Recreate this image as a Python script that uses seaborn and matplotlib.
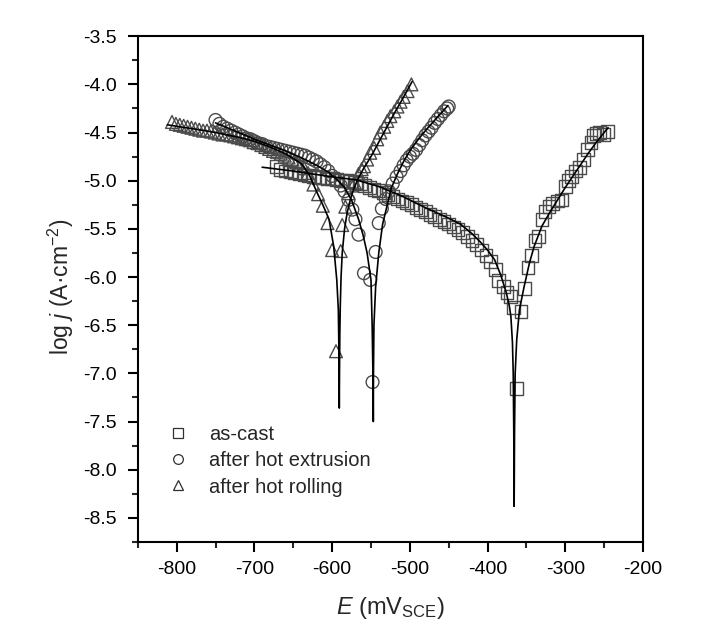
import matplotlib
matplotlib.use("Agg")
import matplotlib.pyplot as plt
import seaborn as sns
import pandas as pd
from matplotlib.ticker import MultipleLocator
from matplotlib.lines import Line2D

# ---------------- data ----------------
series_names = ["as-cast", "after hot extrusion", "after hot rolling"]

# as-cast measured points
cast_E = [-672, -666, -660, -654, -648, -642, -636, -630, -624, -618, -612, -606, -600,
          -594, -588, -582, -576, -570, -564, -558, -552, -546, -540, -534, -528, -522,
          -516, -510, -504, -498, -492, -486, -480, -474, -468, -462, -456, -450, -444,
          -438, -432, -426, -420, -414, -408, -402, -396, -390, -386, -380, -375, -370,
          -367, -363,
          -357, -353, -348, -343, -339, -334, -330, -326, -321, -316, -310, -305, -300,
          -296, -292, -287, -282, -277, -271, -267, -264, -260, -256, -251, -246]
cast_logj = [-4.85, -4.88, -4.90, -4.91, -4.92, -4.93, -4.94, -4.95, -4.96, -4.97, -4.97, -4.98, -4.98,
             -4.99, -5.00, -5.00, -5.01, -5.02, -5.03, -5.05, -5.07, -5.09, -5.10, -5.12, -5.14, -5.16,
             -5.19, -5.21, -5.23, -5.25, -5.28, -5.30, -5.32, -5.35, -5.37, -5.40, -5.42, -5.45, -5.48,
             -5.51, -5.54, -5.58, -5.62, -5.66, -5.72, -5.78, -5.84, -5.92, -6.04, -6.10, -6.16, -6.20,
             -6.32, -7.16,
             -6.36, -6.12, -5.90, -5.78, -5.62, -5.58, -5.40, -5.32, -5.27, -5.24, -5.21, -5.20, -5.06,
             -5.00, -4.96, -4.90, -4.86, -4.78, -4.68, -4.60, -4.53, -4.51, -4.50, -4.52, -4.49]

# after hot extrusion measured points
ext_E = [-750, -745, -740, -735, -730, -725, -720, -715, -710, -705, -700, -695, -690, -685,
         -680, -675, -670, -665, -660, -655, -650, -645, -640, -635, -630, -625, -620, -615,
         -610, -605, -600, -594, -589, -584, -579, -574, -570, -566, -559, -551, -548,
         -544, -540, -536, -531, -527, -522, -517, -512, -508, -504, -500, -496, -492, -488,
         -484, -480, -476, -472, -468, -464, -460, -456, -452, -450]
ext_logj = [-4.37, -4.41, -4.44, -4.46, -4.48, -4.50, -4.52, -4.54, -4.56, -4.57, -4.59, -4.61, -4.62, -4.64,
            -4.65, -4.66, -4.67, -4.68, -4.69, -4.70, -4.71, -4.72, -4.73, -4.74, -4.76, -4.78, -4.80, -4.83,
            -4.86, -4.90, -4.95, -5.00, -5.05, -5.11, -5.20, -5.30, -5.40, -5.56, -5.96, -6.03, -7.09,
            -5.74, -5.44, -5.29, -5.19, -5.11, -5.03, -4.96, -4.90, -4.84, -4.79, -4.75, -4.72, -4.68, -4.63,
            -4.58, -4.53, -4.49, -4.45, -4.40, -4.36, -4.32, -4.28, -4.25, -4.23]

# after hot rolling measured points
roll_E = [-806, -801, -796, -791, -786, -781, -776, -771, -766, -761, -756, -751, -746, -741,
          -736, -731, -726, -721, -716, -711, -706, -701, -696, -691, -686, -681, -676, -671,
          -666, -661, -656, -651, -646, -641, -636, -631, -624, -618, -612, -606, -600, -595,
          -589, -587, -583, -579, -575, -571, -566, -562, -559, -555, -551, -546, -542, -538,
          -533, -529, -525, -520, -516, -512, -508, -503, -498]
roll_logj = [-4.39, -4.41, -4.42, -4.43, -4.44, -4.45, -4.46, -4.47, -4.48, -4.48, -4.49, -4.50, -4.51, -4.52,
             -4.52, -4.53, -4.54, -4.55, -4.56, -4.57, -4.58, -4.60, -4.61, -4.63, -4.65, -4.67, -4.69, -4.70,
             -4.72, -4.74, -4.76, -4.78, -4.81, -4.84, -4.87, -4.92, -5.04, -5.14, -5.26, -5.44, -5.72, -6.77,
             -5.73, -5.46, -5.27, -5.13, -5.05, -5.02, -4.93, -4.88, -4.85, -4.78, -4.71, -4.66, -4.57, -4.50,
             -4.44, -4.38, -4.33, -4.28, -4.23, -4.18, -4.13, -4.07, -4.00]

# Tafel fit curves
cast_fit_E = [-690, -650, -600, -570, -540, -510, -480, -450, -435, -420, -410, -400, -391, -383,
              -376, -372, -370, -368, -367, -366.3, -365.8,
              -365.3, -364.5, -362.5, -359, -353, -346, -340, -330, -320, -310, -300, -290, -280,
              -270, -260, -250, -245]
cast_fit_logj = [-4.86, -4.90, -4.96, -4.99, -5.06, -5.16, -5.28, -5.39, -5.45, -5.55, -5.63, -5.72, -5.82, -5.98,
                 -6.16, -6.30, -6.41, -6.68, -7.00, -7.60, -8.38,
                 -7.60, -7.00, -6.65, -6.34, -6.10, -5.85, -5.68, -5.47, -5.33, -5.20, -5.07, -4.95, -4.83,
                 -4.71, -4.60, -4.50, -4.45]

ext_fit_E = [-750, -720, -700, -680, -660, -640, -620, -605, -595, -585, -575, -566, -560, -555,
             -550, -548.5, -547.5, -547.0,
             -546.8, -546.2, -544, -540, -535, -529, -524, -516, -508, -500, -490, -480, -470,
             -460, -451]
ext_fit_logj = [-4.40, -4.50, -4.57, -4.63, -4.69, -4.76, -4.84, -4.91, -4.98, -5.06, -5.20, -5.40, -5.57, -5.75,
                -6.03, -6.50, -7.00, -7.50,
                -7.00, -6.50, -6.10, -5.75, -5.45, -5.25, -5.08, -4.93, -4.80, -4.69, -4.58, -4.48, -4.39,
                -4.30, -4.22]

roll_fit_E = [-812, -780, -750, -720, -700, -680, -660, -640, -630, -625, -619, -612, -604, -598,
              -594, -592, -591.2, -590.8,
              -590.5, -590.1, -589.5, -588.5, -587, -584, -580.6, -576, -572, -566, -560, -550,
              -540, -530, -520, -510, -497]
roll_fit_logj = [-4.42, -4.46, -4.50, -4.55, -4.59, -4.65, -4.72, -4.82, -4.93, -5.02, -5.13, -5.25, -5.40, -5.68,
                 -6.03, -6.34, -6.80, -7.36,
                 -7.00, -6.60, -6.30, -6.00, -5.75, -5.50, -5.33, -5.18, -5.08, -4.97, -4.88, -4.75,
                 -4.60, -4.45, -4.30, -4.16, -3.97]

x_ticks = [-800, -700, -600, -500, -400, -300, -200]
y_ticks = [-8.5, -8.0, -7.5, -7.0, -6.5, -6.0, -5.5, -5.0, -4.5, -4.0, -3.5]

# ---------------- tables ----------------
pts = pd.concat([
    pd.DataFrame({"E": cast_E, "logj": cast_logj, "sample": series_names[0]}),
    pd.DataFrame({"E": ext_E, "logj": ext_logj, "sample": series_names[1]}),
    pd.DataFrame({"E": roll_E, "logj": roll_logj, "sample": series_names[2]}),
], ignore_index=True)

fits = [(cast_fit_E, cast_fit_logj), (ext_fit_E, ext_fit_logj), (roll_fit_E, roll_fit_logj)]

# ---------------- style ----------------
sns.set_theme(style="ticks")
plt.rcParams["font.family"] = ["Liberation Sans", "DejaVu Sans"]
plt.rcParams["mathtext.fontset"] = "custom"
plt.rcParams["mathtext.rm"] = "Liberation Sans"
plt.rcParams["mathtext.it"] = "Liberation Sans:italic"
plt.rcParams["mathtext.bf"] = "Liberation Sans:bold"

fig = plt.figure(figsize=(7.14, 6.35), dpi=100)
ax = fig.add_axes([0.193, 0.1465, 0.7076, 0.7965])

markers = {"as-cast": "s", "after hot extrusion": "o", "after hot rolling": "^"}
sns.scatterplot(data=pts, x="E", y="logj", hue="sample", style="sample",
                markers=markers, palette=["none"] * 3, hue_order=series_names,
                style_order=series_names, s=85, edgecolor="#4a4a4a",
                linewidth=1.0, ax=ax, legend=False, zorder=2)
for coll in ax.collections:
    coll.set_facecolor("none")
    coll.set_edgecolor("#4a4a4a")

for fe, fl in fits:
    sns.lineplot(x=fe, y=fl, ax=ax, color="black", linewidth=1.2, sort=False,
                 estimator=None, zorder=3)

ax.set_xlim(-850, -200)
ax.set_ylim(-8.75, -3.5)
ax.set_xticks(x_ticks)
ax.set_yticks(y_ticks)
ax.set_xticklabels([str(v) for v in x_ticks])
ax.set_yticklabels([f"{v:.1f}" for v in y_ticks])
ax.xaxis.set_minor_locator(MultipleLocator(50))
ax.yaxis.set_minor_locator(MultipleLocator(0.25))
ax.tick_params(which="major", direction="out", length=7, width=1.5, labelsize=14,
               colors="black")
ax.tick_params(which="minor", direction="out", length=4, width=1.5)
ax.tick_params(axis="x", which="major", pad=7)
ax.tick_params(axis="y", which="major", pad=8)
ax.tick_params(axis="x", top=False)
ax.tick_params(axis="y", right=False)
for sp in ax.spines.values():
    sp.set_visible(True)
    sp.set_linewidth(1.5)
    sp.set_color("black")

ax.set_xlabel(r"$\it{E}$ (mV$_{\rm SCE}$)", fontsize=17)
ax.set_ylabel(r"log $\it{j}$ (A·cm$^{-2}$)", fontsize=16.5)
ax.xaxis.set_label_coords(0.5, -0.105)
ax.yaxis.set_label_coords(-0.122, 0.505)

# legend
handles = [Line2D([], [], linestyle="none", marker=markers[n], markersize=7,
                  markerfacecolor="none", markeredgecolor="#303030", markeredgewidth=0.9)
           for n in series_names]
ax.legend(handles, series_names, loc="lower left", bbox_to_anchor=(0.012, 0.054),
          frameon=False, fontsize=14.5, handletextpad=0.75, labelspacing=0.35,
          handlelength=1.6, borderaxespad=0.5)

fig.savefig("out.png", dpi=100, facecolor="white")
